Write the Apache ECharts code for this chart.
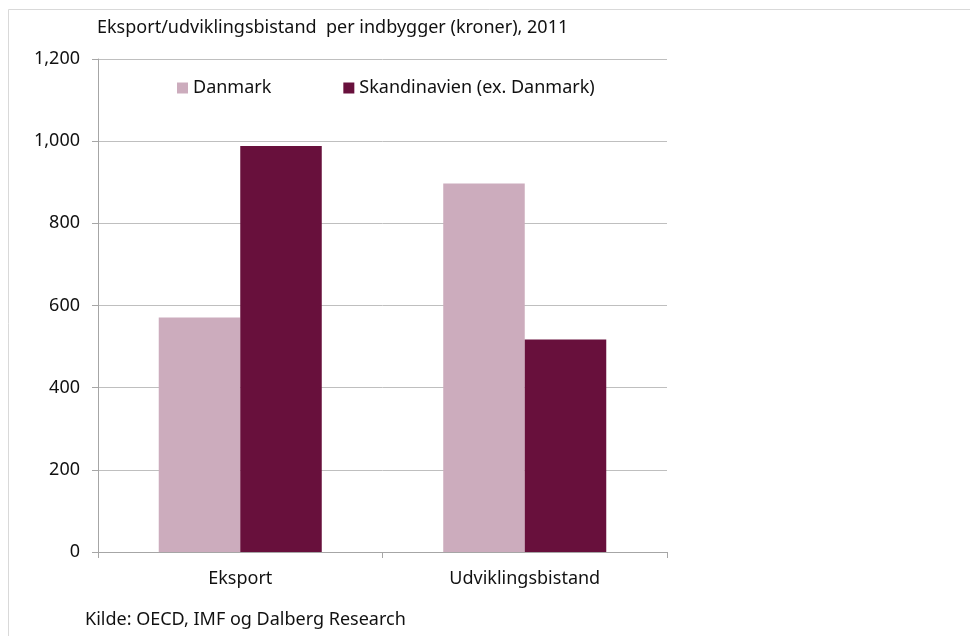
<!DOCTYPE html>
<html><head><meta charset="utf-8">
<script src="https://cdn.jsdelivr.net/npm/echarts@6/dist/echarts.min.js"></script>
<style>html,body{margin:0;padding:0;background:#fff}#c{width:970px;height:636px}</style>
</head><body><div id="c"></div>
<script>
const categories = ['Eksport', 'Udviklingsbistand'];
const danmark = [571, 897];
const skandinavien = [988, 517];
const yTicks = [0, 200, 400, 600, 800, 1000, 1200];
const titleText = 'Eksport/udviklingsbistand  per indbygger (kroner), 2011';
const sourceText = 'Kilde: OECD, IMF og Dalberg Research';
const seriesNames = ['Danmark', 'Skandinavien (ex. Danmark)'];

const FONT = 'Noto Sans';
const chart = echarts.init(document.getElementById('c'));
chart.setOption({
  animation: false,
  backgroundColor: '#fff',
  textStyle: {fontFamily: FONT},
  graphic: [
    {type: 'rect', shape: {x: 8.5, y: 9.5, width: 1000, height: 700}, style: {fill: 'none', stroke: '#d9d9d9', lineWidth: 1}, silent: true},
    {type: 'text', left: 97, top: 19, style: {text: titleText, font: '18px "Noto Sans"', fill: '#111'}},
    {type: 'text', left: 85, top: 611, style: {text: sourceText, font: '18px "Noto Sans"', fill: '#111'}}
  ],
  legend: {
    data: seriesNames,
    left: 172, top: 74,
    itemWidth: 11, itemHeight: 11, itemGap: 72,
    icon: 'rect',
    textStyle: {fontSize: 18, color: '#111', fontFamily: FONT}
  },
  grid: {left: 98, right: 303, top: 59, bottom: 84, containLabel: false},
  xAxis: {
    type: 'category', data: categories,
    axisLine: {lineStyle: {color: '#a6a6a6', width: 1}},
    axisTick: {show: true, length: 6, lineStyle: {color: '#a6a6a6'}},
    axisLabel: {fontSize: 18, color: '#111', margin: 18, fontFamily: FONT}
  },
  yAxis: {
    type: 'value', min: 0, max: 1200, interval: 200,
    axisLine: {show: true, lineStyle: {color: '#a6a6a6'}},
    axisTick: {show: true, length: 6, lineStyle: {color: '#a6a6a6'}},
    splitLine: {lineStyle: {color: '#bfbfbf', width: 1}},
    axisLabel: {fontSize: 18, color: '#111', margin: 18, fontFamily: FONT,
      formatter: v => v.toLocaleString('en-US')}
  },
  series: [
    {name: seriesNames[0], type: 'bar', data: danmark, barGap: '0%', barCategoryGap: '42.7%',
     itemStyle: {color: '#ccacbd'}},
    {name: seriesNames[1], type: 'bar', data: skandinavien, barGap: '0%', barCategoryGap: '42.7%',
     itemStyle: {color: '#68103c'}}
  ]
});
</script></body></html>
